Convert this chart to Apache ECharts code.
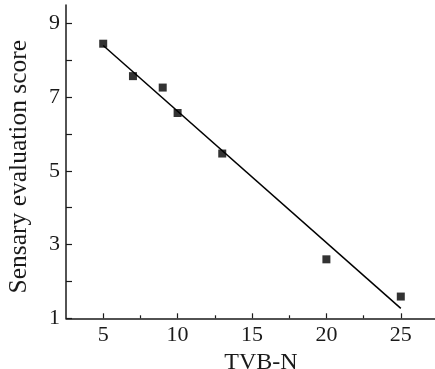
<!DOCTYPE html>
<html>
<head>
<meta charset="utf-8">
<script src="https://cdn.jsdelivr.net/npm/echarts@6/dist/echarts.min.js"></script>
<style>
html,body{margin:0;padding:0;background:#fff;}
#chart{width:435px;height:369px;}
</style>
</head>
<body>
<div id="chart"></div>
<script>
var tvbn = [5, 7, 9, 10, 13, 20, 25];
var score = [8.45, 7.57, 7.26, 6.57, 5.47, 2.60, 1.59];
var fitX = [5, 25];
var fitY = [8.40, 1.27];
var xTicks = [5, 10, 15, 20, 25];
var xMinor = [7.5, 12.5, 17.5, 22.5];
var yTicks = [1, 3, 5, 7, 9];
var yMinor = [2, 4, 6, 8];

var FONT = "'Liberation Serif', 'Times New Roman', serif";
var INK = '#1a1a1a';

var chart = echarts.init(document.getElementById('chart'));
var pts = tvbn.map(function (x, i) { return [x, score[i]]; });
var fit = fitX.map(function (x, i) { return [x, fitY[i]]; });

chart.setOption({
  animation: false,
  backgroundColor: '#fff',
  grid: { left: 66, top: 5, width: 372, height: 313.3, containLabel: false, outerBoundsMode: 'none' },
  xAxis: [{
    type: 'value', min: 2.5, max: 27.5, position: 'bottom',
    name: 'TVB-N', nameLocation: 'middle', nameGap: 28,
    nameTextStyle: { fontFamily: FONT, fontSize: 24, color: INK, padding: [0, 0, 0, 18] },
    axisLine: { show: true, onZero: false, lineStyle: { color: INK, width: 1.5 } },
    axisTick: { show: true, inside: true, length: 5, customValues: xTicks, lineStyle: { color: INK, width: 1.2 } },
    axisLabel: { show: true, customValues: xTicks, fontFamily: FONT, fontSize: 22, color: INK, margin: 6 },
    splitLine: { show: false }
  }, {
    type: 'value', min: 2.5, max: 27.5, position: 'bottom',
    axisLine: { show: false },
    axisTick: { show: true, inside: true, length: 3, customValues: xMinor, lineStyle: { color: INK, width: 1.2 } },
    axisLabel: { show: false },
    splitLine: { show: false }
  }],
  yAxis: [{
    type: 'value', min: 1, max: 9.5, position: 'left',
    name: 'Sensary evaluation score', nameLocation: 'middle', nameGap: 34, nameRotate: 90,
    nameTextStyle: { fontFamily: FONT, fontSize: 25.5, color: INK, padding: [0, 10, 0, 0] },
    axisLine: { show: true, onZero: false, lineStyle: { color: INK, width: 1.5 } },
    axisTick: { show: true, inside: true, length: 6, customValues: yTicks.concat(yMinor), lineStyle: { color: INK, width: 1.2 } },
    axisLabel: { show: true, customValues: yTicks, fontFamily: FONT, fontSize: 22, color: INK, margin: 6 },
    splitLine: { show: false }
  }],
  series: [{
    type: 'line', data: fit, symbol: 'none', xAxisIndex: 0, yAxisIndex: 0,
    lineStyle: { color: '#000', width: 1.5 }, silent: true
  }, {
    type: 'scatter', data: pts, symbol: 'rect', symbolSize: 8, xAxisIndex: 0, yAxisIndex: 0,
    itemStyle: { color: '#000' }
  }]
});
</script>
</body>
</html>
